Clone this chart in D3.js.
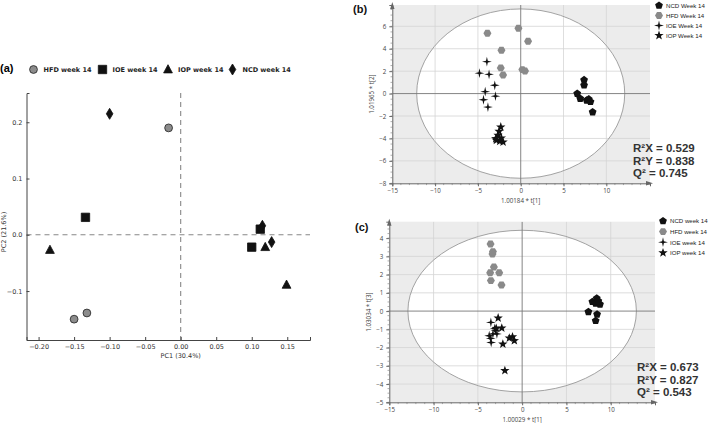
<!DOCTYPE html>
<html><head><meta charset="utf-8">
<script src="https://cdn.jsdelivr.net/npm/d3@7"></script>
<style>body{margin:0;background:#fff}</style>
</head><body>
<svg id="chart" width="709" height="423"></svg>
<script>
// ---------- Panel (a) data: PCA scores ----------
const groupsA = ["HFD week 14", "IOE week 14", "IOP week 14", "NCD week 14"];
const hfdA = [[-0.017, 0.190], [-0.150, -0.150], [-0.132, -0.139]];
const ioeA = [[-0.134, 0.031], [0.100, -0.022], [0.112, 0.010]];
const iopA = [[-0.184, -0.027], [0.119, -0.022], [0.149, -0.089]];
const ncdA = [[-0.100, 0.215], [0.115, 0.016], [0.128, -0.013]];
const xTicksA = [-0.20, -0.15, -0.10, -0.05, 0.00, 0.05, 0.10, 0.15];
const yTicksA = [-0.1, 0.0, 0.1, 0.2];

// ---------- Panel (b) data: t[1] vs t[2] ----------
const groupsB = ["NCD Week 14", "HFD Week 14", "IOE Week 14", "IOP Week 14"];
const ncdB = [[7.4, 1.22], [7.4, 0.75], [6.6, 0.0], [6.95, -0.45], [7.7, -0.6], [7.95, -0.5], [8.15, -0.73], [8.4, -1.65]];
const hfdB = [[-3.89, 5.38], [-0.27, 5.83], [0.86, 4.67], [-2.25, 3.87], [-2.33, 2.29], [-2.06, 1.66], [0.19, 2.14], [0.5, 2.02]];
const ioeB = [[-3.95, 2.85], [-4.82, 1.82], [-3.7, 1.72], [-3.03, 0.74], [-4.15, 0.17], [-2.95, -0.23], [-4.35, -0.55], [-3.83, -1.2]];
const iopB = [[-2.33, -2.98], [-2.53, -3.37], [-2.65, -3.72], [-2.84, -4.17], [-2.45, -4.26], [-2.06, -4.32], [-2.92, -4.02], [-2.26, -3.96]];
const xTicksB = [-15, -10, -5, 0, 5, 10];
const yTicksB = [-8, -6, -4, -2, 0, 2, 4, 6];
const statsB = ["0.529", "0.838", "0.745"];

// ---------- Panel (c) data: t[1] vs t[3] ----------
const groupsC = ["NCD week 14", "HFD week 14", "IOE week 14", "IOP week 14"];
const ncdC = [[7.93, 0.51], [8.42, 0.7], [8.79, 0.37], [8.3, 0.42], [8.6, 0.55], [7.48, -0.04], [8.46, -0.18], [8.3, -0.53]];
const hfdC = [[-3.57, 3.68], [-3.3, 3.26], [-3.35, 3.13], [-3.19, 2.42], [-3.61, 2.1], [-2.59, 2.1], [-3.53, 1.67], [-2.33, 1.43]];
const ioeC = [[-3.53, -0.62], [-3.72, -1.35], [-3.5, -1.72], [-3.3, -1.25], [-3.55, -1.5], [-3.0, -1.05], [-2.85, -1.25], [-3.1, -0.95]];
const iopC = [[-2.71, -0.38], [-2.93, -0.95], [-2.3, -0.93], [-2.18, -1.81], [-1.45, -1.48], [-1.09, -1.41], [-0.88, -1.62], [-1.95, -3.26]];
const xTicksC = [-15, -10, -5, 0, 5, 10];
const yTicksC = [-5, -4, -3, -2, -1, 0, 1, 2, 3, 4];
const statsC = ["0.673", "0.827", "0.543"];

const svg = d3.select("#chart");

// ---------- marker shapes ----------
function polyPath(n, r, rot) {
  rot = rot === undefined ? -Math.PI / 2 : rot;
  let p = "";
  for (let i = 0; i < n; i++) {
    const a = rot + i * 2 * Math.PI / n;
    p += (i ? "L" : "M") + (r * Math.cos(a)).toFixed(2) + "," + (r * Math.sin(a)).toFixed(2);
  }
  return p + "Z";
}
function starPath(n, ro, ri, rot) {
  rot = rot === undefined ? -Math.PI / 2 : rot;
  let p = "";
  for (let i = 0; i < 2 * n; i++) {
    const a = rot + i * Math.PI / n;
    const r = i % 2 ? ri : ro;
    p += (i ? "L" : "M") + (r * Math.cos(a)).toFixed(2) + "," + (r * Math.sin(a)).toFixed(2);
  }
  return p + "Z";
}
const shapesA = {
  circle: d3.symbol().type(d3.symbolCircle).size(48)(),
  square: "M-4.2,-4.2H4.2V4.2H-4.2Z",
  triangle: "M0,-4.8L4.4,3.4L-4.4,3.4Z",
  diamond: "M0,-5.5L3.3,0L0,5.5L-3.3,0Z"
};
const shapesBC = {
  pentagon: polyPath(5, 4.1),
  hexagon: polyPath(6, 4.0, 0),
  star4: starPath(4, 4.9, 1.3),
  star5: starPath(5, 4.9, 2.0)
};

// ================= PANEL (a) =================
const xA = d3.scaleLinear().domain([-0.217, 0.182]).range([26.5, 310]);
const yA = d3.scaleLinear().domain([-0.187, 0.252]).range([340, 93]);
const gA = svg.append("g").attr("font-family", "DejaVu Sans, sans-serif");

gA.append("text").attr("x", 0).attr("y", 72).attr("font-size", 11).attr("font-weight", "bold")
  .attr("font-family", "Liberation Sans, Arial, sans-serif").text("(a)");

// dashed zero lines
gA.append("line").attr("x1", xA(0)).attr("x2", xA(0)).attr("y1", yA.range()[1]).attr("y2", yA.range()[0])
  .attr("stroke", "#888").attr("stroke-width", 1.1).attr("stroke-dasharray", "5,4");
gA.append("line").attr("x1", xA.range()[0]).attr("x2", xA.range()[1]).attr("y1", yA(0)).attr("y2", yA(0))
  .attr("stroke", "#888").attr("stroke-width", 1.1).attr("stroke-dasharray", "5,4");

const axA = gA.append("g").attr("transform", `translate(0,${yA.range()[0]})`)
  .call(d3.axisBottom(xA).tickValues(xTicksA).tickFormat(d3.format(".2f")).tickSize(-3).tickPadding(4));
const ayA = gA.append("g").attr("transform", `translate(${xA.range()[0]},0)`)
  .call(d3.axisLeft(yA).tickValues(yTicksA).tickFormat(d3.format(".1f")).tickSize(-3).tickPadding(4));
[axA, ayA].forEach(a => {
  a.select(".domain").attr("stroke", "#444");
  a.selectAll(".tick line").attr("stroke", "#444");
  a.selectAll("text").attr("font-size", 6.5).attr("fill", "#333").attr("font-family", "DejaVu Sans, sans-serif");
});
gA.append("text").attr("x", xA(0)).attr("y", 358).attr("text-anchor", "middle").attr("font-size", 6.5).attr("fill", "#333").text("PC1 (30.4%)");
gA.append("text").attr("transform", `translate(6,${yA(0.005)}) rotate(-90)`).attr("text-anchor", "middle")
  .attr("font-size", 6.5).attr("fill", "#333").text("PC2 (21.6%)");

const seriesA = [
  {data: hfdA, shape: "circle", fill: "#8c8c8c", stroke: "#222"},
  {data: ioeA, shape: "square", fill: "#111", stroke: "#111"},
  {data: iopA, shape: "triangle", fill: "#111", stroke: "#111"},
  {data: ncdA, shape: "diamond", fill: "#111", stroke: "#111"}
];
seriesA.forEach(s => {
  gA.selectAll(null).data(s.data).enter().append("path")
    .attr("d", shapesA[s.shape])
    .attr("transform", d => `translate(${xA(d[0])},${yA(d[1])})`)
    .attr("fill", s.fill).attr("stroke", s.stroke).attr("stroke-width", 0.8);
});
// legend (a)
const legAx = [33.5, 102.5, 168, 232.5];
seriesA.forEach((s, i) => {
  gA.append("path").attr("d", shapesA[s.shape]).attr("transform", `translate(${legAx[i]},69.5)`)
    .attr("fill", s.fill).attr("stroke", s.stroke).attr("stroke-width", 0.8);
  gA.append("text").attr("x", legAx[i] + 10).attr("y", 72).attr("font-size", 6.5).attr("fill", "#222")
    .attr("font-weight", "bold").text(groupsA[i]);
});

// ================= PANELS (b), (c) =================
function scorePlot(o) {
  const g = svg.append("g").attr("font-family", "Open Sans, Noto Sans, sans-serif");
  const x = d3.scaleLinear().domain(o.xDom).range(o.xRange);
  const y = d3.scaleLinear().domain(o.yDom).range(o.yRange);
  const [x0, x1] = o.xRange, [y1, y0] = o.yRange;
  const clipId = "clip" + o.id;
  g.append("clipPath").attr("id", clipId).append("rect")
    .attr("x", x0).attr("y", y0).attr("width", x1 - x0).attr("height", y1 - y0);
  g.append("rect").attr("x", x0).attr("y", y0).attr("width", x1 - x0).attr("height", y1 - y0).attr("fill", "#ececec");
  const pg = g.append("g").attr("clip-path", `url(#${clipId})`);
  pg.append("ellipse").attr("cx", x(0)).attr("cy", y(0))
    .attr("rx", x(o.ell[0]) - x(0)).attr("ry", y(0) - y(o.ell[1])).attr("fill", "#fff");
  // grid
  o.xTicks.filter(v => v !== 0 && v !== o.xDom[0]).forEach(v =>
    pg.append("line").attr("x1", x(v)).attr("x2", x(v)).attr("y1", y0).attr("y2", y1).attr("stroke", "#d4d4d4").attr("stroke-width", 0.8));
  o.yTicks.filter(v => v !== 0 && v !== o.yDom[0]).forEach(v =>
    pg.append("line").attr("x1", x0).attr("x2", x1).attr("y1", y(v)).attr("y2", y(v)).attr("stroke", "#d4d4d4").attr("stroke-width", 0.8));
  pg.append("ellipse").attr("cx", x(0)).attr("cy", y(0))
    .attr("rx", x(o.ell[0]) - x(0)).attr("ry", y(0) - y(o.ell[1])).attr("fill", "none").attr("stroke", "#999").attr("stroke-width", 0.9);
  // zero lines
  pg.append("line").attr("x1", x(0)).attr("x2", x(0)).attr("y1", y0).attr("y2", y1).attr("stroke", "#777").attr("stroke-width", 0.9);
  pg.append("line").attr("x1", x0).attr("x2", x1).attr("y1", y(0)).attr("y2", y(0)).attr("stroke", "#777").attr("stroke-width", 0.9);

  // axes
  const ax = g.append("g").attr("transform", `translate(0,${y1})`)
    .call(d3.axisBottom(x).tickValues(o.xTicks).tickSize(3).tickPadding(2.5).tickFormat(d => d3.format("d")(d)));
  const ay = g.append("g").attr("transform", `translate(${x0},0)`)
    .call(d3.axisLeft(y).tickValues(o.yTicks).tickSize(3).tickPadding(3).tickFormat(d => d3.format("d")(d)));
  [ax, ay].forEach(a => {
    a.select(".domain").attr("stroke", "#666");
    a.selectAll(".tick line").attr("stroke", "#666");
    a.selectAll("text").attr("font-size", 6.2).attr("fill", "#444").attr("font-family", "Open Sans, Noto Sans, sans-serif");
  });
  // minor ticks
  d3.range(o.xDom[0], o.xDom[1], o.xMinor).forEach(v => {
    g.append("line").attr("x1", x(v)).attr("x2", x(v)).attr("y1", y1).attr("y2", y1 + 1.8).attr("stroke", "#777").attr("stroke-width", 0.6);
  });
  d3.range(o.yDom[0], o.yDom[1], o.yMinor).forEach(v => {
    g.append("line").attr("x1", x0).attr("x2", x0 - 1.8).attr("y1", y(v)).attr("y2", y(v)).attr("stroke", "#777").attr("stroke-width", 0.6);
  });
  // arrowheads
  g.append("path").attr("d", `M${x0},${y0 - 3}L${x0 - 2.2},${y0 + 4}L${x0 + 2.2},${y0 + 4}Z`).attr("fill", "#666");
  g.append("path").attr("d", `M${x1 + 3},${y1}L${x1 - 4},${y1 - 2.2}L${x1 - 4},${y1 + 2.2}Z`).attr("fill", "#666");

  g.append("text").attr("x", x(0)).attr("y", y1 + 20).attr("text-anchor", "middle").attr("font-size", 6.2).attr("fill", "#444").text(o.xLabel);
  g.append("text").attr("transform", `translate(${x0 - 18},${(y0 + y1) / 2}) rotate(-90)`).attr("text-anchor", "middle")
    .attr("font-size", 6.2).attr("fill", "#444").text(o.yLabel);

  g.append("text").attr("x", o.label[0]).attr("y", o.label[1]).attr("font-size", 11).attr("font-weight", "bold")
    .attr("font-family", "Liberation Sans, Arial, sans-serif").attr("fill", "#111").text(o.labelText);

  // points
  const series = [
    {data: o.data[0], shape: "pentagon", fill: "#111"},
    {data: o.data[1], shape: "hexagon", fill: "#8a8a8a"},
    {data: o.data[2], shape: "star4", fill: "#111"},
    {data: o.data[3], shape: "star5", fill: "#111"}
  ];
  series.forEach(s => {
    g.selectAll(null).data(s.data).enter().append("path")
      .attr("d", shapesBC[s.shape])
      .attr("transform", d => `translate(${x(d[0])},${y(d[1])})`)
      .attr("fill", s.fill);
  });
  // legend
  series.forEach((s, i) => {
    g.append("path").attr("d", shapesBC[s.shape]).attr("transform", `translate(${o.leg[0]},${o.leg[1] + i * o.leg[2]})`).attr("fill", s.fill);
    g.append("text").attr("x", o.leg[0] + 7).attr("y", o.leg[1] + i * o.leg[2] + 2.3)
      .attr("font-family", "Liberation Sans, Arial, sans-serif")
      .attr("font-size", 6.1).attr("fill", "#222")
      .text(o.groups[i]);
  });
  // stats
  const lab = ["R²X", "R²Y", "Q²"];
  lab.forEach((l, i) => {
    g.append("text").attr("x", o.stat[0]).attr("y", o.stat[1] + i * o.stat[2])
      .attr("font-family", "Liberation Sans, Arial, sans-serif").attr("font-weight", "bold")
      .attr("font-size", 11.5).attr("fill", "#333").attr("xml:space", "preserve")
      .text(l + " = " + o.stats[i]);
  });
}

scorePlot({
  id: "b", xDom: [-15, 15.1], yDom: [-8, 7.9], xRange: [392.3, 650], yRange: [183.3, 5],
  ell: [12.15, 7.55], xTicks: xTicksB, yTicks: yTicksB, xMinor: 1, yMinor: 0.5,
  xLabel: "1.00184 * t[1]", yLabel: "1.01965 * t[2]",
  label: [353, 13], labelText: "(b)",
  data: [ncdB, hfdB, ioeB, iopB], groups: groupsB,
  leg: [659, 5.5, 10], stat: [633, 152, 12.6], stats: statsB
});
scorePlot({
  id: "c", xDom: [-15, 15], yDom: [-5, 4.9], xRange: [389.3, 655], yRange: [402.3, 221.7],
  ell: [12.9, 4.43], xTicks: xTicksC, yTicks: yTicksC, xMinor: 1, yMinor: 0.25,
  xLabel: "1.00029 * t[1]", yLabel: "1.03034 * t[3]",
  label: [355, 231], labelText: "(c)",
  data: [ncdC, hfdC, ioeC, iopC], groups: groupsC,
  leg: [663, 221, 10.6], stat: [637, 371, 12.6], stats: statsC
});
</script></body></html>
